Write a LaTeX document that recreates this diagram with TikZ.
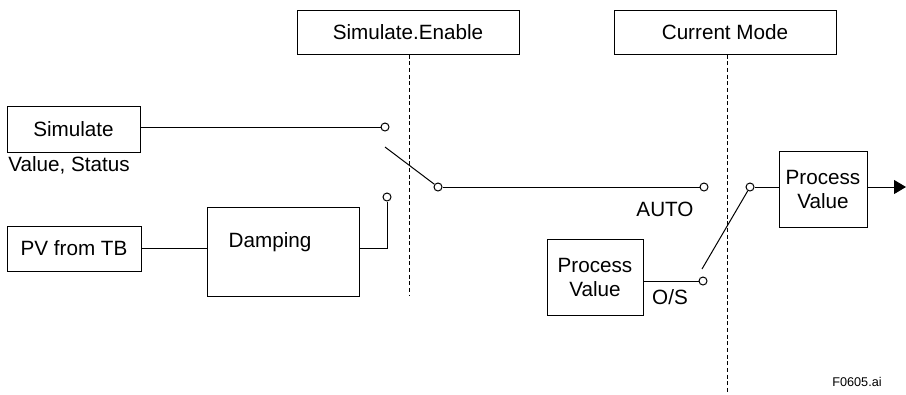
\documentclass[tikz,border=0pt]{standalone}
\usepackage{fontspec}
\setmainfont{Liberation Sans}
\usetikzlibrary{arrows.meta}
\begin{document}
\begin{tikzpicture}[x=0.75pt,y=-0.75pt,
  every node/.style={font=\fontsize{15.5}{18}\selectfont},
  box/.style={draw,line width=0.75pt,inner sep=0pt,align=center},
  contact/.style={draw,circle,line width=0.75pt,minimum size=6pt,inner sep=0pt,fill=white},
  wire/.style={line width=0.75pt},
  guide/.style={line width=0.75pt,dash pattern=on 3pt off 2pt},
  txt/.style={inner sep=0pt}]
\useasboundingbox (0,0) rectangle (906,394);
% boxes
\node[box,minimum width=166.5pt,minimum height=33pt] (se) at (408,32) {Simulate.Enable};
\node[box,minimum width=166.5pt,minimum height=33pt] (cm) at (725,32) {Current Mode};
\node[box,minimum width=99.75pt,minimum height=34.5pt] (sim) at (73.5,129) {Simulate};
\node[txt,anchor=west] (vs) at (8,165) {Value, Status};
\node[box,minimum width=100.5pt,minimum height=33.75pt] (pv) at (74,248.5) {PV from TB};
\node[box,minimum width=114pt,minimum height=66.75pt] (dmp) at (283,251.5) {};
\node[txt] (dmptxt) at (270,242) {Damping};
\node[box,minimum width=72pt,minimum height=57pt] (pvl) at (595,277) {Process\\Value};
\node[box,minimum width=66pt,minimum height=57pt] (pvu) at (823,189) {Process\\Value};
\node[txt] (auto) at (665,209) {AUTO};
\node[txt] (os) at (670,297) {O/S};
\node[txt,font=\fontsize{9.5}{11}\selectfont] (fig) at (857,382) {F0605.ai};
% guides
\coordinate (g1) at (409,296);
\coordinate (g2) at (727,393);
\draw[guide] (se.south -| g1) -- (g1);
\draw[guide] (cm.south -| g2) -- (g2);
% contacts
\node[contact] (c1) at (385,127) {};
\node[contact] (c3) at (387,197) {};
\node[contact] (c2) at (438,187) {};
\node[contact] (ca) at (704,187) {};
\node[contact] (co) at (703,281) {};
\node[contact] (cp) at (750,187) {};
\coordinate (arm1) at (385,147);
\coordinate (arm2) at (702,269);
\coordinate (out) at (906,187);
% wires
\draw[wire] (sim.east |- c1) -- (c1);
\draw[wire] (arm1) -- (c2);
\draw[wire] (c2) -- (ca);
\draw[wire] (pv.east) -- (pv.east -| dmp.west);
\draw[wire] (dmp.east |- pv.east) -- (c3 |- pv.east) -- (c3);
\draw[wire] (pvl.east |- co) -- (co);
\draw[wire] (arm2) -- (cp);
\draw[wire] (cp) -- (cp -| pvu.west);
\draw[wire,-{Triangle[length=9pt,width=10.5pt]}] (pvu.east |- cp) -- (out);
\end{tikzpicture}
\end{document}
